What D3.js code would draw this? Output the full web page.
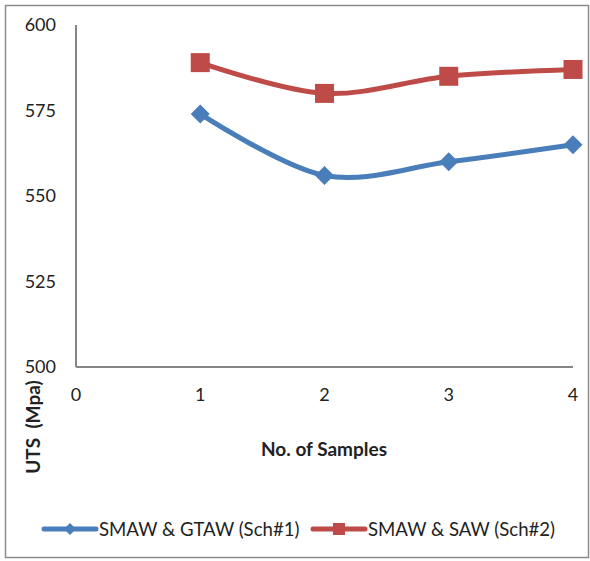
<!DOCTYPE html>
<html><head><meta charset="utf-8">
<script src="https://cdn.jsdelivr.net/npm/d3@7/dist/d3.min.js"></script>
<style>body{margin:0;background:#fff}svg{display:block}</style>
</head><body>
<svg id="c" width="590" height="561"></svg>
<script>
const samples = [1, 2, 3, 4];
const sch1 = [574, 556, 560, 565];
const sch2 = [589, 580, 585, 587];
const xTicks = [0, 1, 2, 3, 4];
const yTicks = [500, 525, 550, 575, 600];
const seriesNames = ["SMAW & GTAW (Sch#1)", "SMAW & SAW (Sch#2)"];

const svg = d3.select("#c");
const font = "Lato, 'Open Sans', sans-serif";
svg.append("rect").attr("x", 5.5).attr("y", 5.5).attr("width", 583).attr("height", 552)
  .attr("fill", "none").attr("stroke", "#8c8c8c").attr("stroke-width", 1.5);

const x = d3.scaleLinear().domain([0, 4]).range([76, 573]);
const y = d3.scaleLinear().domain([500, 600]).range([367, 25]);

svg.append("line").attr("x1", x(0)).attr("x2", x(0)).attr("y1", y(600)).attr("y2", y(500))
  .attr("stroke", "#868686").attr("stroke-width", 2);
svg.append("line").attr("x1", x(0)).attr("x2", x(4)).attr("y1", y(500)).attr("y2", y(500))
  .attr("stroke", "#868686").attr("stroke-width", 2);

svg.selectAll(".yt").data(yTicks).enter().append("text")
  .attr("x", 56).attr("y", d => y(d)).attr("dy", "0.35em").attr("text-anchor", "end")
  .attr("font-family", font).attr("font-size", 18).attr("fill", "#222").text(d => d);
svg.selectAll(".xt").data(xTicks).enter().append("text")
  .attr("x", d => x(d)).attr("y", 395).attr("dy", "0.35em").attr("text-anchor", "middle")
  .attr("font-family", font).attr("font-size", 18).attr("fill", "#222").text(d => d);

svg.append("text").attr("x", 324).attr("y", 449).attr("dy", "0.35em").attr("text-anchor", "middle")
  .attr("font-family", font).attr("font-size", 19).attr("font-weight", "bold").attr("fill", "#222")
  .text("No. of Samples");
svg.append("text").attr("transform", "translate(33,427) rotate(-90)").attr("dy", "0.35em")
  .attr("text-anchor", "middle").attr("font-family", font).attr("font-size", 19)
  .attr("font-weight", "bold").attr("fill", "#222").attr("xml:space", "preserve").text("UTS  (Mpa)");

const colors = ["#4a7ebb", "#be4b48"];
const data = [sch1, sch2];
const line = d3.line().x((d, i) => x(samples[i])).y(d => y(d)).curve(d3.curveCatmullRom.alpha(0));

data.forEach((s, k) => {
  svg.append("path").attr("d", line(s)).attr("fill", "none").attr("stroke", colors[k])
    .attr("stroke-width", 5).attr("stroke-linecap", "round");
});
svg.selectAll(".m1").data(sch1).enter().append("path")
  .attr("transform", (d, i) => `translate(${x(samples[i])},${y(d)})`)
  .attr("d", "M0,-9.5L9.5,0L0,9.5L-9.5,0Z").attr("fill", colors[0]);
svg.selectAll(".m2").data(sch2).enter().append("rect")
  .attr("x", (d, i) => x(samples[i]) - 9.5).attr("y", d => y(d) - 9.5)
  .attr("width", 19).attr("height", 19).attr("fill", colors[1]);

const ly = 529;
svg.append("line").attr("x1", 44).attr("x2", 96).attr("y1", ly).attr("y2", ly)
  .attr("stroke", colors[0]).attr("stroke-width", 5).attr("stroke-linecap", "round");
svg.append("path").attr("transform", `translate(70,${ly})`).attr("d", "M0,-6L6,0L0,6L-6,0Z").attr("fill", colors[0]);
svg.append("text").attr("x", 99).attr("y", ly).attr("dy", "0.35em").attr("font-family", font)
  .attr("font-size", 18.6).attr("fill", "#222").text(seriesNames[0]);
svg.append("line").attr("x1", 313).attr("x2", 365).attr("y1", ly).attr("y2", ly)
  .attr("stroke", colors[1]).attr("stroke-width", 5).attr("stroke-linecap", "round");
svg.append("rect").attr("x", 333).attr("y", ly - 6).attr("width", 12).attr("height", 12).attr("fill", colors[1]);
svg.append("text").attr("x", 368).attr("y", ly).attr("dy", "0.35em").attr("font-family", font)
  .attr("font-size", 18.6).attr("fill", "#222").text(seriesNames[1]);
</script>
</body></html>
